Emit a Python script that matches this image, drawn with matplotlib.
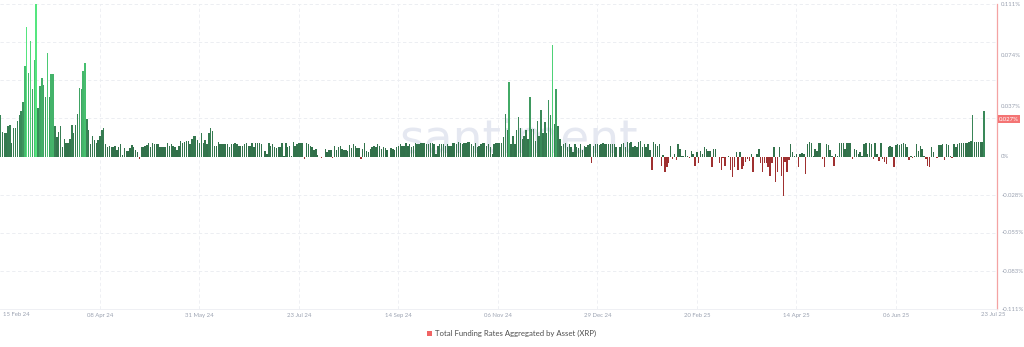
import numpy as np
import pandas as pd
import matplotlib
matplotlib.use("Agg")
import matplotlib.pyplot as plt
import matplotlib.dates as mdates
from matplotlib.colors import LinearSegmentedColormap
from matplotlib.patches import Rectangle

plt.rcParams['font.family'] = ['Lato', 'DejaVu Sans']

# daily aggregated funding rate for XRP, in %, one row = 10 days
start_date = "2024-02-15"

rates_feb_apr = [
    0.030, 0.018, 0.017, 0.017, 0.022, 0.023, 0.010, 0.021, 0.021, 0.026,
    0.030, 0.033, 0.040, 0.066, 0.094, 0.061, 0.084, 0.049, 0.070, 0.111,
    0.035, 0.051, 0.057, 0.052, 0.043, 0.075, 0.043, 0.060, 0.060, 0.022,
    0.014, 0.018, 0.022, 0.007, 0.013, 0.010, 0.010, 0.013, 0.023, 0.017,
    0.023, 0.031, 0.050, 0.049, 0.062, 0.068, 0.027, 0.019, 0.009, 0.015,
    0.012, 0.010, 0.012, 0.015, 0.019, 0.021, 0.009, 0.007, 0.008, 0.007,
    0.007, 0.008, 0.005, 0.007, 0.009, 0.001, 0.006, 0.004, 0.004, 0.006,
]
rates_apr_aug = [
    0.0085, 0.007, 0.005, 0.003, -0.002, 0.007, 0.007, 0.008, 0.0085, 0.0097,
    0.007, 0.010, 0.009, 0.009, 0.009, 0.007, 0.007, 0.007, 0.007, 0.0097,
    0.008, 0.009, 0.008, 0.007, 0.005, 0.008, 0.011, 0.010, 0.0105, 0.011,
    0.011, 0.009, 0.013, 0.015, 0.0146, 0.012, 0.0097, 0.017, 0.010, 0.012,
    0.009, 0.017, 0.021, 0.0185, 0.008, 0.008, 0.0105, 0.009, 0.009, 0.009,
    0.009, 0.0088, 0.0068, 0.009, 0.0088, 0.010, 0.009, 0.008, 0.0075, 0.008,
    0.009, 0.0097, 0.008, 0.008, 0.010, 0.007, 0.010, 0.010, 0.0097, 0.009,
    -0.0005, 0.004, 0.002, 0.0097, 0.008, 0.009, 0.007, 0.006, 0.007, 0.007,
    0.010, 0.0005, 0.0097, 0.007, 0.008, 0.0005, 0.0105, 0.008, 0.009, 0.010,
    0.010, 0.0097, -0.002, 0.010, 0.009, 0.008, 0.007, 0.0044, 0.0056, 0.0008,
    0.0, -0.001, 0.0, 0.0056, 0.003, 0.005, 0.005, -0.001, 0.008, 0.005,
]
rates_aug_nov = [
    0.007, 0.008, 0.0056, 0.005, 0.005, 0.004, 0.0085, 0.0063, 0.0092, 0.008,
    0.0063, 0.0063, -0.002, 0.0056, 0.0097, 0.0037, 0.0032, 0.0056, 0.0068, 0.0078,
    0.0068, 0.0092, 0.0073, 0.0056, 0.0068, 0.0063, 0.0049, 0.0, 0.0063, 0.0056,
    0.0044, 0.0068, 0.008, 0.0092, 0.008, 0.0073, 0.0097, 0.008, 0.0092, 0.0068,
    0.008, 0.0097, 0.0088, 0.0092, 0.0097, 0.0097, 0.0097, 0.0092, 0.0092, 0.0097,
    0.0097, 0.0092, 0.002, 0.0073, 0.0088, 0.0092, 0.0088, 0.008, 0.0088, 0.0073,
    0.008, 0.0097, 0.0097, 0.0092, 0.0105, 0.0097, 0.0092, 0.0097, 0.0097, 0.0105,
    0.0105, 0.0088, 0.008, 0.0097, 0.0068, 0.008, 0.0092, 0.0097, 0.0097, 0.0073,
]
rates_nov_jan = [
    0.0092, 0.007, 0.002, 0.009, 0.010, 0.0095, 0.010, 0.010, 0.014, 0.031,
    0.019, 0.054, 0.009, 0.015, 0.009, 0.019, 0.029, 0.021, 0.013, 0.015,
    0.019, 0.013, 0.043, 0.020, 0.020, 0.011, 0.026, 0.015, 0.034, 0.017,
    0.025, 0.017, 0.041, 0.030, 0.081, 0.024, 0.049, 0.022, 0.013, 0.008,
    0.009, 0.010, 0.007, 0.009, 0.007, 0.003, 0.009, 0.007, 0.006, 0.009,
    0.005, 0.008, 0.007, 0.0085, 0.009, -0.005, 0.008, 0.009, 0.009, 0.0085,
    0.009, 0.0097, 0.009, 0.0088, 0.0088, 0.009, 0.0088, 0.009, 0.007, 0.0,
    0.007, 0.009, 0.0097, 0.007, 0.0105, 0.0097, 0.0105, 0.007, 0.008, 0.007,
    0.0105, 0.011, 0.007, 0.0088, 0.007, 0.0088, 0.005, -0.0097, 0.0105, 0.009,
]
rates_jan_apr = [
    0.008, 0.0088, -0.0066, 0.001, -0.0114, -0.0078, -0.005, 0.008, -0.0017, 0.002,
    -0.0024, 0.009, 0.0056, 0.0007, 0.0007, 0.0049, 0.0007, -0.001, 0.004, 0.0015,
    -0.007, 0.003, -0.005, 0.004, 0.0015, 0.007, 0.0056, 0.004, 0.004, -0.0078,
    0.0056, 0.0056, 0.0, -0.005, -0.0097, -0.001, -0.007, 0.0, 0.0007, -0.0097,
    -0.015, -0.0075, 0.003, -0.0097, 0.003, -0.009, -0.007, -0.004, -0.0017, -0.003,
    0.002, -0.0114, 0.0, 0.002, 0.0056, -0.005, -0.0114, -0.005, -0.005, -0.0078,
    -0.014, -0.005, 0.007, -0.0187, -0.0114, 0.007, -0.014, -0.0285, -0.004, -0.0114,
]
rates_apr_jul = [
    -0.0024, 0.0092, 0.0032, 0.0007, 0.0015, -0.0078, 0.0015, 0.0024, 0.0019, -0.0131,
    0.0092, 0.0102, 0.0097, 0.0007, 0.0056, 0.0039, 0.0097, 0.0097, -0.0017, -0.0078,
    0.0092, 0.0087, 0.0049, 0.0007, -0.0066, 0.0019, 0.0007, 0.0097, 0.0097, 0.0097,
    0.0056, 0.0097, 0.0097, 0.0097, -0.0017, 0.0056, 0.0044, 0.0015, 0.0032, 0.0007,
    0.0092, 0.0097, 0.0019, 0.0097, 0.0092, -0.0017, 0.0097, 0.0019, -0.0034, 0.0097,
    -0.0017, -0.0041, -0.0058, 0.0068, 0.0073, 0.0068, -0.0078, 0.0087, 0.0092, 0.0087,
    0.0092, 0.0097, 0.0092, 0.0068, -0.0024, 0.0007, -0.001, 0.0007, 0.0092, 0.0039,
    0.008, 0.0056, 0.0007, -0.0017, -0.0066, -0.0073, 0.0068, 0.0032, 0.0, -0.001,
    0.0087, 0.0087, 0.0092, -0.0029, 0.0092, 0.0087, 0.0007, -0.001, 0.0092, 0.0068,
    0.0092, 0.0097, 0.0097, 0.0097, 0.0097, 0.0097, 0.0102, 0.0112, 0.030, 0.0104,
    0.0104, 0.0104, 0.0104, 0.0107, 0.033,
]

ytick_vals = [0.111, 0.074, 0.037, 0, -0.028, -0.055, -0.083, -0.111]
ytick_labels = ["0.111%", "0.074%", "0.037%", "0%", "-0.028%", "-0.055%", "-0.083%", "-0.111%"]
grid_dates = ["2024-04-08", "2024-05-31", "2024-07-23", "2024-09-14", "2024-11-06",
              "2024-12-29", "2025-02-20", "2025-04-14", "2025-06-06"]
current_value = 0.027
legend_label = "Total Funding Rates Aggregated by Asset (XRP)"

rates = np.array(rates_feb_apr + rates_apr_aug + rates_aug_nov +
                 rates_nov_jan + rates_jan_apr + rates_apr_jul)
dates = pd.date_range(start_date, periods=len(rates), freq="D")
x = mdates.date2num(dates)

greens = LinearSegmentedColormap.from_list("g", ["#306b47", "#3a8758", "#45b86c", "#55e67f"])
colors = [greens(min(v / 0.095, 1.0)) if v >= 0 else "#9f3030" for v in rates]

fig = plt.figure(figsize=(10.24, 3.47), dpi=100)
ax = fig.add_axes([0, 1 - 309 / 347, 997 / 1024, 305 / 347])

ax.text(0.52, 0.555, "santiment", transform=ax.transAxes, fontsize=34,
        color="#e5e8f1", ha="center", va="center", zorder=1, family="DejaVu Sans")

ax.bar(x, rates, width=0.75, color=colors, linewidth=0, zorder=3)

# dashed grid
for k in [1, 2, 3, 4]:
    for s in [1, -1]:
        ax.axhline(s * k * 0.02775, color="#e9ebf0", lw=0.6, ls=(0, (4, 3)), zorder=0)
gx = mdates.date2num(pd.to_datetime(grid_dates))
for g in gx:
    ax.axvline(g, color="#eceef2", lw=0.6, ls=(0, (4, 3)), zorder=0)

ax.set_xlim(x[0] - 0.27, x[0] + 530.9)
ax.set_ylim(-0.111, 0.111)

ax.set_xticks(gx)
ax.set_xticklabels([d.strftime("%d %b %y") for d in pd.to_datetime(grid_dates)])
ax.text(0.003, -0.017, dates[0].strftime("%d %b %y"), transform=ax.transAxes,
        ha="left", va="center", fontsize=4.3, color="#9ba2b1")
ax.text(0.996, -0.017, dates[-1].strftime("%d %b %y"), transform=ax.transAxes,
        ha="center", va="center", fontsize=4.3, color="#9ba2b1")

ax.yaxis.tick_right()
ax.set_yticks(ytick_vals)
ax.set_yticklabels(ytick_labels)
ax.tick_params(axis="x", length=0, pad=3, labelsize=4.3, labelcolor="#9ba2b1")
ax.tick_params(axis="y", length=0, pad=3, labelsize=4.3, labelcolor="#9ba2b1")

for side in ["top", "left"]:
    ax.spines[side].set_visible(False)
ax.spines["bottom"].set_color("#eceef2")
ax.spines["bottom"].set_linewidth(0.6)
ax.spines["right"].set_color("#f4a3a3")
ax.spines["right"].set_linewidth(0.9)

ax.text(1.002, current_value, f"{current_value:.3f}%", transform=ax.get_yaxis_transform(),
        ha="left", va="center", fontsize=4.3, color="white", zorder=5, clip_on=False,
        bbox=dict(boxstyle="square,pad=0.25", facecolor="#f47474", edgecolor="none"))

fig.add_artist(Rectangle((427 / 1024, 1 - 336 / 347), 5 / 1024, 5 / 347,
                         transform=fig.transFigure, facecolor="#f06464", edgecolor="none"))
fig.text(435 / 1024, 1 - 333.5 / 347, legend_label, ha="left", va="center",
         fontsize=5.6, color="#4d4d4d")

fig.savefig("out.png", dpi=100)
